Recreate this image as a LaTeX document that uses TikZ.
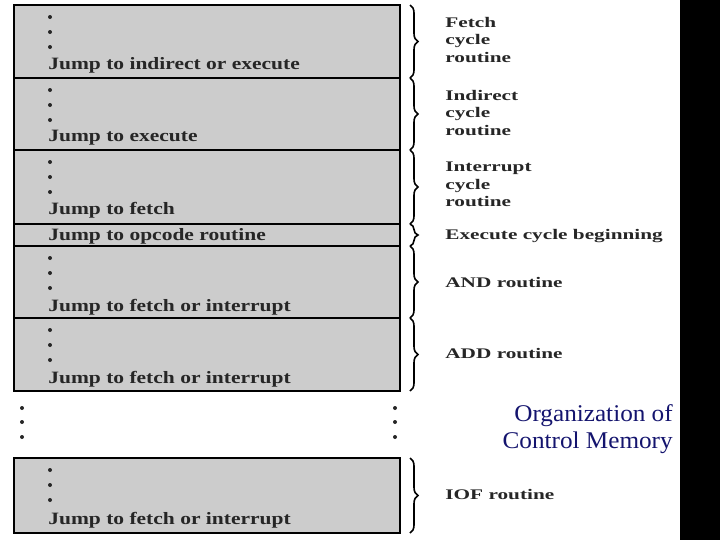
\documentclass[tikz,border=0pt]{standalone}
\usepackage{fontspec}
\setmainfont{Liberation Serif}
\usetikzlibrary{decorations.pathreplacing}
\definecolor{boxgray}{RGB}{204,204,204}
\definecolor{navyt}{RGB}{20,20,110}
\begin{document}
\begin{tikzpicture}[x=0.75pt,y=-0.75pt,
  sect/.style={draw=black,line width=1.5pt,fill=boxgray},
  code/.style={anchor=base west,font=\bfseries\fontsize{13}{14}\selectfont,text=black!85,inner sep=0,xscale=1.24},
  lbl/.style={anchor=north west,font=\bfseries\fontsize{11}{12}\selectfont,text=black!85,inner sep=0,align=left,xscale=1.45},
  dotc/.style={fill=black!85,circle,inner sep=0,minimum size=3pt},
  br/.style={decorate,decoration={brace,amplitude=6pt,raise=0pt},line width=1.2pt}]
\useasboundingbox (0,0) rectangle (720,540);
\fill[black] (680,0) rectangle (720,540);
\foreach \a/\b [count=\i] in {5/78,78/150,150/224,224/246,246/318,318/391}
  {\draw[sect] (14,\a) rectangle (400,\b);
   \draw[br] (410,\a) -- (410,\b);}
\draw[sect] (14,458) rectangle (400,533);
\draw[br] (410,458) -- (410,533);
\foreach \t in {5,78,150,246,318,458}
  \foreach \d in {12,27,42} \node[dotc] at (50,\t+\d) {};
\node[code] (c1) at (48,69) {Jump to indirect or execute};
\node[code] (c2) at (48,141) {Jump to execute};
\node[code] (c3) at (48,214) {Jump to fetch};
\node[code] (c4) at (48,240) {Jump to opcode routine};
\node[code] (c5) at (48,311) {Jump to fetch or interrupt};
\node[code] (c6) at (48,383) {Jump to fetch or interrupt};
\node[code] (c7) at (48,524) {Jump to fetch or interrupt};
\node[lbl] (l1) at (445,17) {Fetch\\[1pt]cycle\\[1pt]routine};
\node[lbl] (l2) at (445,90) {Indirect\\[1pt]cycle\\[1pt]routine};
\node[lbl] (l3) at (445,162) {Interrupt\\[1pt]cycle\\[1pt]routine};
\node[lbl,anchor=base west] (l4) at (445,239) {Execute cycle beginning};
\node[lbl,anchor=base west] (l5) at (445,287) {AND routine};
\node[lbl,anchor=base west] (l6) at (445,358) {ADD routine};
\node[lbl,anchor=base west] (l7) at (445,499) {IOF routine};
\foreach \d in {408,422,437} {\node[dotc] at (22,\d) {}; \node[dotc] at (395,\d) {};}
\node[anchor=base east,font=\fontsize{18}{19}\selectfont,text=navyt,inner sep=0,xscale=1.05] (t1) at (673,421) {Organization of};
\node[anchor=base east,font=\fontsize{18}{19}\selectfont,text=navyt,inner sep=0,xscale=1.05] (t2) at (673,448) {Control Memory};
\end{tikzpicture}
\end{document}
